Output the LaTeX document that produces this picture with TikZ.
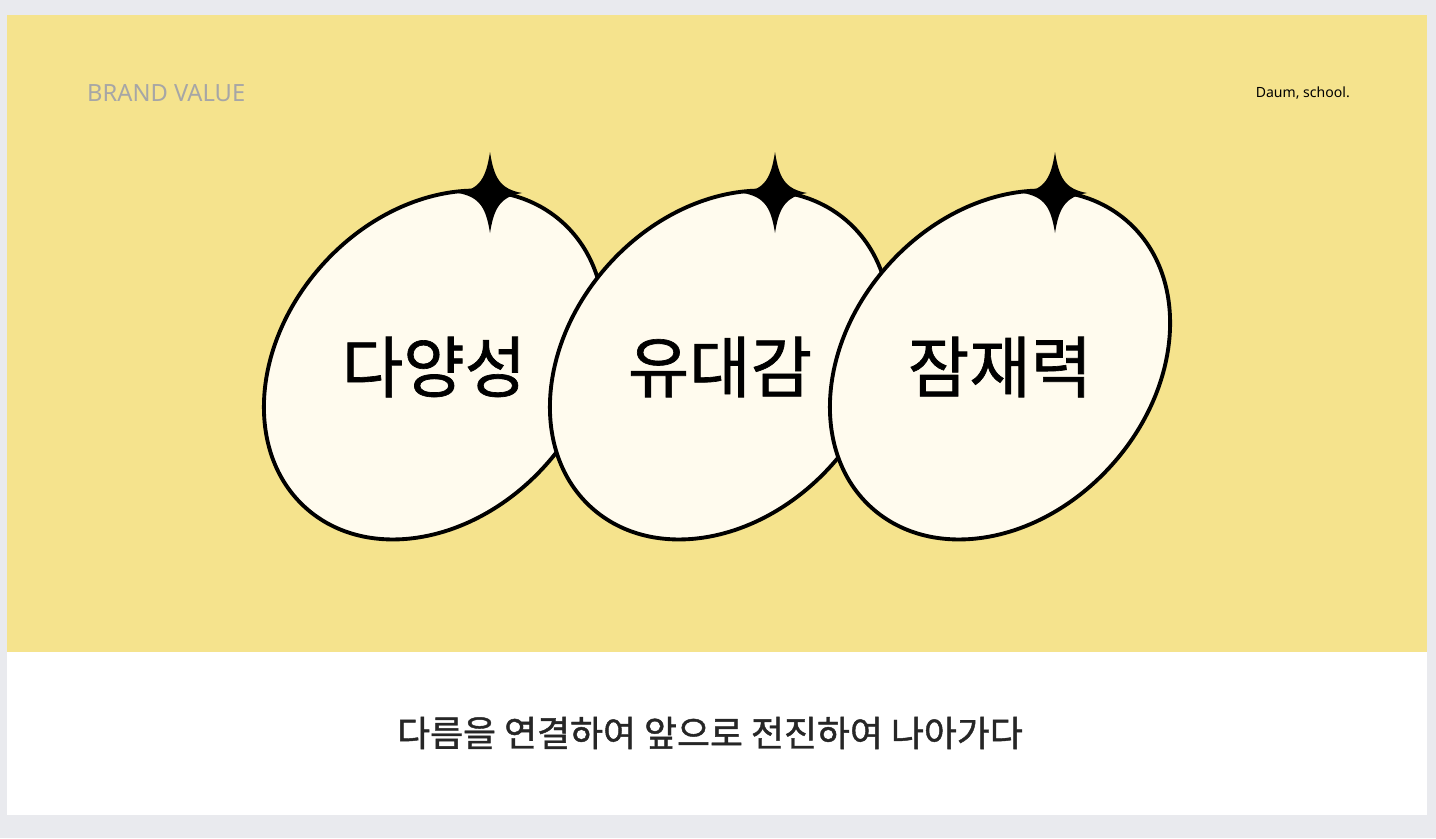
\documentclass[tikz,border=0pt]{standalone}
\usepackage{fontspec}
\setmainfont{Noto Sans}
\newfontfamily\kr{Noto Sans CJK KR}
\definecolor{bgout}{HTML}{E9EAEE}
\definecolor{panel}{HTML}{F5E38D}
\definecolor{egg}{HTML}{FFFBEE}
\begin{document}
\begin{tikzpicture}[x=0.02cm,y=-0.02cm,
  eggst/.style={draw=black,line width=2.2pt,fill=egg},
  starst/.style={fill=black},
  bigtxt/.style={font=\kr\fontsize{38}{40}\selectfont\addfontfeature{FakeBold=1}}]
\fill[bgout] (0,0) rectangle (1436,838);
\useasboundingbox (0,0) rectangle (1436,838);
\fill[panel] (7,15) rectangle (1427,652);
\fill[white] (7,652) rectangle (1427,815);
\fill[white] (665,838) arc[start angle=180,end angle=0,x radius=50,y radius=6];
\node[anchor=west,text=black!35,font=\fontsize{13.5}{14}\selectfont] (brand) at (81,93) {BRAND VALUE};
\node[anchor=east,font=\fontsize{8}{9}\selectfont] (daum) at (1356,93) {Daum, school.};
\foreach \i/\cx/\t in {1/434/다양성,2/720/유대감,3/1000/잠재력}{
  \draw[eggst,rotate around={48:(\cx,365)}] (\cx,365) ellipse[x radius=192,y radius=150];
  \node[bigtxt] (t\i) at (\cx,367) {\t};
}
\foreach \sx in {490,775,1055}{
  \fill[starst] (\sx,152) .. controls (\sx+4,178) and (\sx+10,189) .. (\sx+32,193)
    .. controls (\sx+10,197) and (\sx+4,208) .. (\sx,233)
    .. controls (\sx-4,208) and (\sx-10,197) .. (\sx-32,193)
    .. controls (\sx-10,189) and (\sx-4,178) .. (\sx,152) -- cycle;
}
\node[font=\kr\fontsize{20.4}{22}\selectfont\addfontfeature{FakeBold=1.2},text=black!85] (motto) at (710,733) {다름을 연결하여 앞으로 전진하여 나아가다};
\end{tikzpicture}
\end{document}
